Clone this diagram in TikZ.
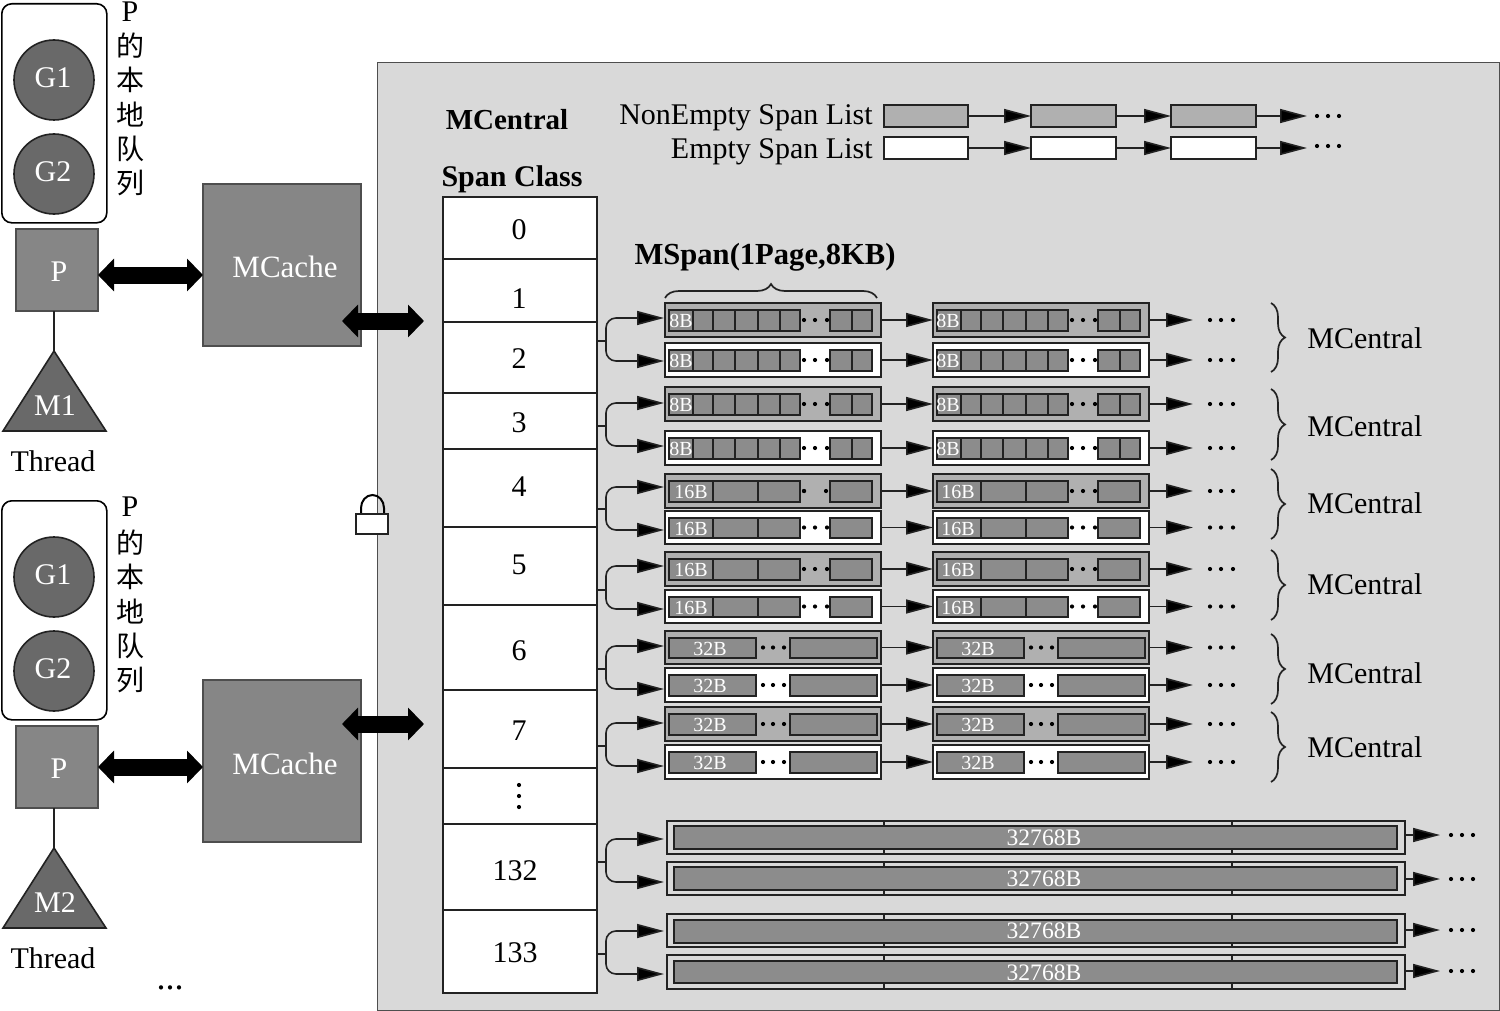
\documentclass[tikz,border=0pt]{standalone}
\usepackage{fontspec}
\setmainfont{Liberation Serif}
\newfontfamily\cjk{Noto Sans CJK SC}
\usetikzlibrary{arrows.meta,decorations.pathreplacing}
\definecolor{bgc}{HTML}{D9D9D9}
\definecolor{ne}{HTML}{B0B0B0}
\definecolor{cellc}{HTML}{8C8C8C}
\definecolor{dk}{HTML}{696969}
\definecolor{md}{HTML}{868686}
\definecolor{ln}{HTML}{222222}
\newcommand\fs[1]{\fontsize{#1}{#1}\selectfont}
\tikzset{
  x=0.5pt,y=-0.5pt,
  box/.style={draw=ln,line width=1pt,inner sep=0pt,outer sep=0pt},
  cell/.style={draw=ln,line width=1pt,fill=cellc},
  cellt/.style={text=white,inner sep=0pt,font=\fs{10}},
  txt/.style={inner sep=0pt,font=\fs{15}},
  wtxt/.style={txt,text=white},
  link/.style={draw=ln,line width=.8pt,-{Triangle[length=13.5pt,width=7pt,fill=black]}},
  fat/.style={line width=8.5pt,{Triangle[length=8pt,width=16pt]}-{Triangle[length=8pt,width=16pt]}},
  brc/.style={draw=ln,line width=.85pt,decorate,decoration={brace,amplitude=7pt}}
}
% \rect{name}{style}{x1}{y1}{x2}{y2}
\newcommand\rect[6]{\node[box,#2,anchor=north west,minimum width={((#5)-(#3))*0.5pt},minimum height={((#6)-(#4))*0.5pt}] (#1) at (#3,#4) {};}
\newcommand\threedots[4]{\foreach \dx in {#1,#2,#3} {\fill (\dx,#4) circle (1.05pt);}}
\newcommand\cellsa[3]{% x offset, top, bottom
  \draw[cell] (669+#1,#2+7) rectangle (800+#1,#3-6);
  \foreach \dv in {693,713,735,758,780} {\draw[draw=ln,line width=1pt] (\dv+#1,#2+7) -- (\dv+#1,#3-6);}
  \draw[cell] (830+#1,#2+7) rectangle (872+#1,#3-6);
  \draw[draw=ln,line width=1pt] (852+#1,#2+7) -- (852+#1,#3-6);
}
\newcommand\cellsb[3]{%
  \draw[cell] (669+#1,#2+7) rectangle (800+#1,#3-6);
  \foreach \dv in {713,758} {\draw[draw=ln,line width=1pt] (\dv+#1,#2+7) -- (\dv+#1,#3-6);}
  \draw[cell] (830+#1,#2+7) rectangle (872+#1,#3-6);
}
\newcommand\cellsc[3]{%
  \draw[cell] (669+#1,#2+7) rectangle (756+#1,#3-6);
  \draw[cell] (790+#1,#2+7) rectangle (877+#1,#3-6);
}
\begin{document}
\begin{tikzpicture}
\useasboundingbox (0,0) rectangle (1500,1011);
\fill[white] (0,0) rectangle (1500,1011);
% main panel
\draw[draw=ln!80,fill=bgc,line width=.9pt] (377.5,62.5) rectangle (1499.5,1010.5);

% left-hand groups
\foreach \g/\dy/\mn/\ay/\cy in {0/0/M1/275/0,1/497/M2/767/496} {
  \node[draw=black,line width=.8pt,rounded corners=5pt,inner sep=0pt,minimum width=52.5pt,minimum height=109.5pt,anchor=north west] (q\g) at (1,3+\dy) {};
  \node[circle,draw=ln,line width=.8pt,fill=dk,inner sep=0pt,minimum size=40pt] (ga\g) at (54,80+\dy) {};
  \node[wtxt] (gal\g) at (53,78+\dy) {G1};
  \node[circle,draw=ln,line width=.8pt,fill=dk,inner sep=0pt,minimum size=40pt] (gb\g) at (54,174+\dy) {};
  \node[wtxt] (gbl\g) at (53,172+\dy) {G2};
  \node[txt] (ql\g) at (130,12+\dy-\g*2) {P};
  \node[font=\cjk\fs{14},inner sep=0pt] (qa\g) at (130,46+\dy) {的};
  \node[font=\cjk\fs{14},inner sep=0pt] (qb\g) at (130,80+\dy) {本};
  \node[font=\cjk\fs{14},inner sep=0pt] (qc\g) at (130,115+\dy) {地};
  \node[font=\cjk\fs{14},inner sep=0pt] (qd\g) at (130,149+\dy) {队};
  \node[font=\cjk\fs{14},inner sep=0pt] (qe\g) at (130,183+\dy) {列};
  \rect{p\g}{fill=md,draw=ln!80}{16}{229+\dy}{98}{311+\dy}
  \node[wtxt] (pl\g) at (59,272+\dy) {P};
  \coordinate (ma\g) at (54,351+\dy);
  \draw[draw=ln,line width=.8pt,fill=dk] (54,351+\dy) -- (106,431+\dy) -- (3,431+\dy) -- cycle;
  \draw[draw=ln,line width=.8pt] (54,311+\dy) -- (ma\g);
  \node[wtxt] (ml\g) at (55,406+\dy) {\mn};
  \node[txt] (th\g) at (53,461+\dy) {Thread};
  \rect{mc\g}{fill=md,draw=ln!80}{203}{184+\cy}{361}{346+\cy}
  \node[txt,text=white,font=\fs{15.5}] (mcl\g) at (285,267+\cy+\g) {MCache};
  \draw[fat] (p\g.east |- 0,\ay) -- (mc\g.west |- 0,\ay);
}
\draw[fat] (342,321) -- (424,321);
\draw[fat] (342,724) -- (424,724);
\node[txt,font=\fs{18}] (more) at (170,988) {...};
% lock
\draw[line width=1pt,fill=none] (361,514) -- (361,508) arc[start angle=180,end angle=0,x radius=11.5,y radius=-13] -- (384,514);
\rect{lock}{fill=white,draw=ln}{356}{514}{388}{534}

% titles
\node[txt,font=\bfseries\fs{14.5}] (t1) at (507,120) {MCentral};
\node[txt,font=\bfseries\fs{15}] (t2) at (512,179) {Span Class};
\node[txt,anchor=east] (ln1) at (873,118) {NonEmpty Span List};
\node[txt,anchor=east] (ln2) at (873,152) {Empty Span List};
\node[txt,font=\bfseries\fs{15.3}] (t3) at (765,257) {MSpan(1Page,8KB)};

% legend lists
\rect{la}{fill=ne}{884}{105}{968}{127}
\rect{lb}{fill=ne}{1031}{105}{1116}{127}
\rect{lc}{fill=ne}{1171}{105}{1256}{127}
\coordinate (ld) at (1307,116);
\draw[link] (la) -- (lb); \draw[link] (lb) -- (lc); \draw[link] (lc) -- (ld);
\threedots{1317}{1328}{1339}{116}
\rect{ea}{fill=white}{884}{137}{968}{159}
\rect{eb}{fill=white}{1031}{137}{1116}{159}
\rect{ec}{fill=white}{1171}{137}{1256}{159}
\coordinate (ed) at (1307,148);
\draw[link] (ea) -- (eb); \draw[link] (eb) -- (ec); \draw[link] (ec) -- (ed);
\threedots{1317}{1328}{1339}{146}

% span class table
\foreach \nm/\ta/\tb/\lab/\lx/\ly in {
  c0/197/259/0/519/230, c1/259/322/1/519/299, c2/322/393/2/519/359, c3/393/449/3/519/423,
  c4/449/527/4/519/487, c5/527/605/5/519/565, c6/605/690/6/519/651, c7/690/768/7/519/731,
  cd/768/824//519/796, c132/824/910/132/515/871, c133/910/993/133/515/953} {
  \rect{\nm}{fill=white,line width=.75pt}{443}{\ta}{597}{\tb}
  \node[txt] (l\nm) at (\lx,\ly) {\lab};
}
\foreach \vy in {785,796,807} {\fill (519,\vy) circle (1.05pt);}

% mspan rows
\foreach \i/\tp/\bt/\kind/\fc/\lbl in {
  1/303/337/a/ne/8B, 2/343/377/a/white/8B, 3/387/421/a/ne/8B, 4/431/465/a/white/8B,
  5/474/508/b/ne/16B, 6/511/544/b/white/16B, 7/552/586/b/ne/16B, 8/590/623/b/white/16B,
  9/631/664/c/ne/32B, 10/668/702/c/white/32B, 11/707/741/c/ne/32B, 12/745/779/c/white/32B} {
  \rect{a\i}{fill=\fc}{665}{\tp}{881}{\bt}
  \rect{b\i}{fill=\fc}{933}{\tp}{1149}{\bt}
  \csname cells\kind\endcsname{0}{\tp}{\bt}
  \csname cells\kind\endcsname{268}{\tp}{\bt}
  \if a\kind
    \node[cellt] (ta\i) at (681,\tp*0.5+\bt*0.5+1) {\lbl};
    \node[cellt] (tb\i) at (948,\tp*0.5+\bt*0.5+1) {\lbl};
    \threedots{804}{815}{827}{\tp*0.5+\bt*0.5}
    \threedots{1072}{1083}{1095}{\tp*0.5+\bt*0.5}
  \else\if b\kind
    \node[cellt] (ta\i) at (691,\tp*0.5+\bt*0.5+1) {\lbl};
    \node[cellt] (tb\i) at (958,\tp*0.5+\bt*0.5+1) {\lbl};
    \ifnum\i=5
      \threedots{804}{804}{826}{\tp*0.5+\bt*0.5}
    \else
      \threedots{804}{815}{827}{\tp*0.5+\bt*0.5}
    \fi
    \threedots{1072}{1083}{1095}{\tp*0.5+\bt*0.5}
  \else
    \node[cellt] (ta\i) at (710,\tp*0.5+\bt*0.5+1) {\lbl};
    \node[cellt] (tb\i) at (978,\tp*0.5+\bt*0.5+1) {\lbl};
    \threedots{763}{773}{784}{\tp*0.5+\bt*0.5}
    \threedots{1031}{1041}{1052}{\tp*0.5+\bt*0.5}
  \fi\fi
  \coordinate (f\i) at (1193,\tp*0.5+\bt*0.5);
  \draw[link] (a\i) -- (b\i);
  \draw[link] (b\i) -- (f\i);
  \threedots{1210}{1221}{1233}{\tp*0.5+\bt*0.5}
}

% forks from the table to the rows
\foreach \ys/\ya/\yb in {341/318/361, 426/403/446, 509/487/530, 590/566/609,
  669/646/689, 746/723/766, 862/839/882, 954/931/974} {
  \coordinate (sa\ys) at (664,\ya);
  \coordinate (sb\ys) at (664,\yb);
  \coordinate (st\ys) at (597,\ys);
  \draw[draw=ln,line width=.8pt] (st\ys) -- (606,\ys);
  \draw[link,rounded corners=5pt] (606,\ys) |- (sa\ys);
  \draw[link,rounded corners=5pt] (606,\ys) |- (sb\ys);
}

% large-object rows
\foreach \i/\tp/\bt/\inT/\inB/\ly/\ay in {
  1/821/854/826/849/838/835, 2/862/895/867/890/879/879,
  3/914/947/920/943/931/930, 4/955/989/961/983/973/971} {
  \rect{d\i}{fill=none}{667}{\tp}{1405}{\bt}
  \rect{di\i}{fill=cellc}{674}{\inT}{1397}{\inB}
  \foreach \tx in {884,1232} {
    \draw[draw=ln,line width=.8pt] (\tx,\tp) -- (\tx,\inT);
    \draw[draw=ln,line width=.8pt] (\tx,\inB) -- (\tx,\bt);
  }
  \node[txt,text=white,font=\fs{11.8}] (dl\i) at (1044,\ly) {32768B};
  \coordinate (de\i) at (1440,\ay);
  \draw[link] (d\i.east |- de\i) -- (de\i);
  \threedots{1451}{1462}{1473}{\ay}
}

% right-hand braces and labels
\foreach \i/\ta/\tb/\ly in {1/303/372/338, 2/389/460/426, 3/469/539/503, 4/550/620/584, 5/634/704/673, 6/712/782/747} {
  \draw[brc] (1271,\ta) -- (1271,\tb);
  \node[txt,anchor=west] (mr\i) at (1307,\ly) {MCentral};
}
\draw[brc] (665,298) -- (877,298);
\end{tikzpicture}
\end{document}
